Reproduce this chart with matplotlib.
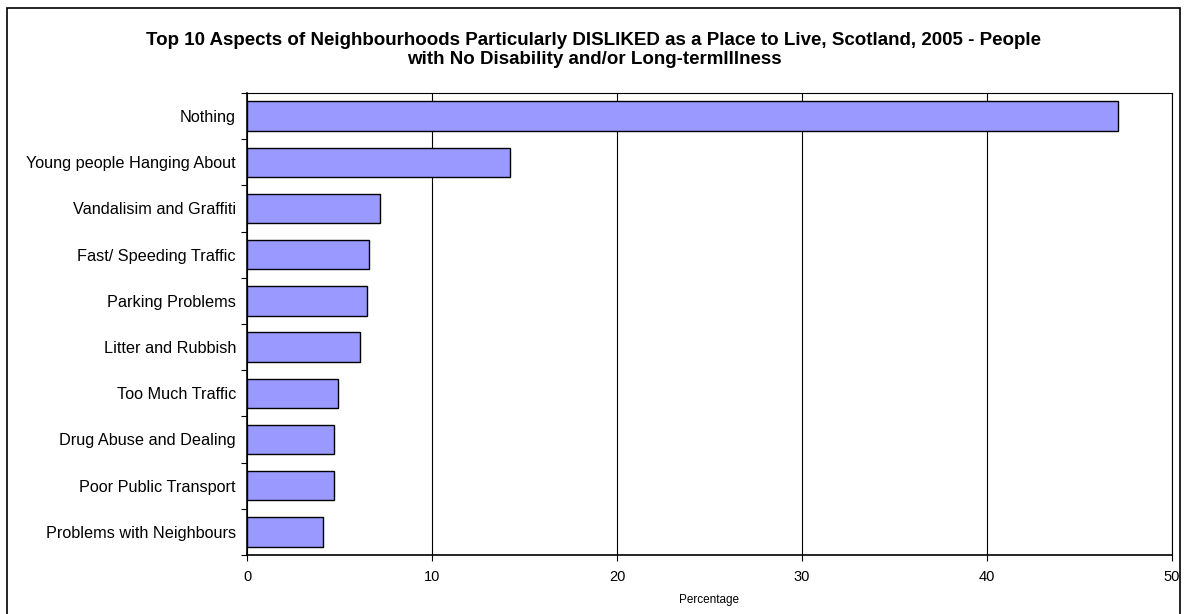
import numpy as np
import matplotlib
matplotlib.use("Agg")
import matplotlib.pyplot as plt
from matplotlib.patches import Rectangle

plt.rcParams["font.family"] = ["Liberation Sans", "DejaVu Sans"]

CATEGORIES = [
    "Nothing",
    "Young people Hanging About",
    "Vandalisim and Graffiti",
    "Fast/ Speeding Traffic",
    "Parking Problems",
    "Litter and Rubbish",
    "Too Much Traffic",
    "Drug Abuse and Dealing",
    "Poor Public Transport",
    "Problems with Neighbours",
]
VALUES = [47.1, 14.2, 7.2, 6.6, 6.5, 6.1, 4.9, 4.7, 4.7, 4.1]
X_TICKS = [0, 10, 20, 30, 40, 50]

TITLE = ("Top 10 Aspects of Neighbourhoods Particularly DISLIKED as a Place to Live, Scotland, 2005 - People\n"
         "with No Disability and/or Long-termIllness")


def main():
    fig = plt.figure(figsize=(11.88, 6.14), dpi=100)
    W, H = 1188, 614
    ax = fig.add_axes([247 / W, 1 - 555 / H, (1172 - 247) / W, (555 - 93) / H])

    y = np.arange(len(CATEGORIES))
    ax.barh(y, VALUES, height=0.64, color="#9999FF", edgecolor="black",
            linewidth=1.0, zorder=3)

    ax.set_xlim(0, 50)
    ax.set_ylim(len(CATEGORIES) - 0.5, -0.5)
    ax.set_xticks(X_TICKS)
    ax.set_xticklabels([str(t) for t in X_TICKS], fontsize=10.5)
    ax.set_yticks(y)
    ax.set_yticklabels(CATEGORIES, fontsize=11.7)
    ax.tick_params(axis="y", length=0, pad=8)
    ax.set_yticks(np.arange(-0.5, len(CATEGORIES)), minor=True)
    ax.tick_params(axis="y", which="minor", length=4, width=0.8, direction="out")
    ax.tick_params(axis="x", length=4, width=0.8, direction="out", pad=7)

    ax.grid(axis="x", color="black", linewidth=0.8, zorder=0)
    for s in ax.spines.values():
        s.set_linewidth(0.8)
    ax.spines["bottom"].set_linewidth(1.2)
    ax.spines["left"].set_linewidth(1.2)

    ax.set_xlabel("Percentage", fontsize=8.5, labelpad=7)

    fig.text(0.5, 1 - 50 / H, TITLE, ha="center", va="center",
             fontsize=13.5, fontweight="bold", linespacing=1.2)

    # outer chart frame (bottom edge falls just outside the image)
    fig.patches.append(Rectangle((7 / W, -3 / H), (1180 - 7) / W, (606 + 3) / H,
                                 transform=fig.transFigure, fill=False,
                                 edgecolor="black", linewidth=1.2))

    fig.savefig("out.png", dpi=100)


if __name__ == "__main__":
    main()
